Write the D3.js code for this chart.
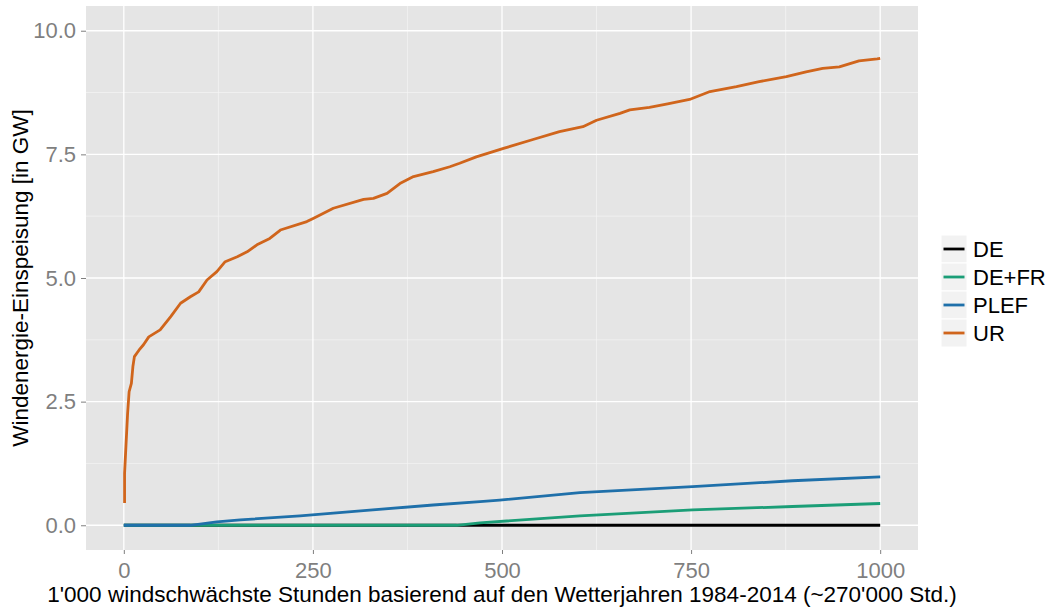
<!DOCTYPE html>
<html>
<head>
<meta charset="utf-8">
<script src="https://cdn.jsdelivr.net/npm/d3@7"></script>
<style>
  body { margin: 0; background: #fff; }
  svg { font-family: "Liberation Sans", Arial, sans-serif; }
  .grid-major line { stroke: #fff; stroke-width: 1.3; }
  .grid-minor line { stroke: #f5f5f5; stroke-width: 0.7; }
  .axis path { display: none; }
  .axis line { stroke: #7f7f7f; }
  .axis text { fill: #7f7f7f; font-size: 22px; }
  .series { fill: none; stroke-width: 2.8; stroke-linejoin: round; }
</style>
</head>
<body>
<div id="chart"></div>
<script>
const svgWidth = 1051;
const svgHeight = 609;
const margin = {top: 6, right: 133, bottom: 59, left: 86};
const width = svgWidth - margin.left - margin.right;
const height = svgHeight - margin.top - margin.bottom;

// series names and colours (legend order)
const seriesNames = ["DE", "DE+FR", "PLEF", "UR"];
const seriesColors = ["#000000", "#1b9e77", "#1f70aa", "#d0651c"];

// values: [hour rank, GW]
const deValues = [[0, 0], [1000, 0]];
const defrValues = [[0, 0], [440, 0], [471, 0.05], [603, 0.19], [752, 0.31], [884, 0.38], [1000, 0.44]];
const plefValues = [[0, 0], [88, 0], [123, 0.07], [154, 0.11], [233, 0.19], [321, 0.30], [409, 0.41],
  [471, 0.48], [497, 0.51], [603, 0.66], [752, 0.78], [884, 0.90], [1000, 0.98]];
const urValues = [[1, 0.45], [1, 1.05], [3, 1.66], [5, 2.26], [7, 2.70], [10, 2.87], [12, 3.21], [14, 3.41],
  [20, 3.54], [26, 3.65], [33, 3.81], [48, 3.95], [62, 4.22], [75, 4.49], [88, 4.62], [99, 4.72],
  [110, 4.96], [123, 5.13], [134, 5.33], [150, 5.43], [163, 5.53], [176, 5.67], [193, 5.80],
  [207, 5.97], [242, 6.14], [251, 6.21], [277, 6.41], [317, 6.59], [330, 6.61], [348, 6.71],
  [365, 6.91], [383, 7.05], [409, 7.15], [431, 7.25], [444, 7.32], [466, 7.45], [502, 7.62],
  [541, 7.80], [576, 7.96], [607, 8.06], [625, 8.19], [656, 8.33], [669, 8.40], [695, 8.45],
  [719, 8.52], [748, 8.61], [775, 8.77], [810, 8.87], [840, 8.97], [876, 9.07], [902, 9.17],
  [924, 9.24], [946, 9.27], [972, 9.39], [996, 9.43], [1000, 9.44]];
const seriesValues = [deValues, defrValues, plefValues, urValues];

// ticks
const xTicks = [0, 250, 500, 750, 1000];
const xMinor = [125, 375, 625, 875];
const yTicks = [0, 2.5, 5, 7.5, 10];
const yMinor = [1.25, 3.75, 6.25, 8.75];

const xTitle = "1'000 windschwächste Stunden basierend auf den Wetterjahren 1984-2014 (~270'000 Std.)";
const yTitle = "Windenergie-Einspeisung [in GW]";

document.addEventListener("DOMContentLoaded", function() {
  drawChart();
});

function drawChart() {
  const root = d3.select("#chart")
    .append("svg")
    .attr("width", svgWidth)
    .attr("height", svgHeight);

  const svg = root.append("g")
    .attr("transform", "translate(" + margin.left + "," + margin.top + ")");

  const xscale = d3.scaleLinear().domain([-50, 1050]).range([0, width]);
  const yscale = d3.scaleLinear().domain([-0.5, 10.5]).range([height, 0]);

  // panel
  svg.append("rect")
    .attr("width", width)
    .attr("height", height)
    .attr("fill", "#e5e5e5");

  // minor grid
  svg.append("g").attr("class", "grid-minor")
    .selectAll("line").data(xMinor).join("line")
    .attr("x1", d => xscale(d)).attr("x2", d => xscale(d))
    .attr("y1", 0).attr("y2", height);
  svg.append("g").attr("class", "grid-minor")
    .selectAll("line").data(yMinor).join("line")
    .attr("x1", 0).attr("x2", width)
    .attr("y1", d => yscale(d)).attr("y2", d => yscale(d));

  // major grid
  svg.append("g").attr("class", "grid-major")
    .selectAll("line").data(xTicks).join("line")
    .attr("x1", d => xscale(d)).attr("x2", d => xscale(d))
    .attr("y1", 0).attr("y2", height);
  svg.append("g").attr("class", "grid-major")
    .selectAll("line").data(yTicks).join("line")
    .attr("x1", 0).attr("x2", width)
    .attr("y1", d => yscale(d)).attr("y2", d => yscale(d));

  // axes
  const xaxis = d3.axisBottom(xscale).tickValues(xTicks).tickSize(4).tickPadding(8).tickFormat(d3.format("d"));
  const yaxis = d3.axisLeft(yscale).tickValues(yTicks).tickSize(5).tickPadding(5).tickFormat(d3.format(".1f"));

  svg.append("g")
    .attr("class", "axis")
    .attr("transform", "translate(0," + height + ")")
    .call(xaxis);

  svg.append("g")
    .attr("class", "axis")
    .call(yaxis);

  // lines
  const line = d3.line()
    .x(d => xscale(d[0]))
    .y(d => yscale(d[1]));

  seriesValues.forEach(function(vals, i) {
    svg.append("path")
      .datum(vals)
      .attr("class", "series")
      .attr("stroke", seriesColors[i])
      .attr("d", line);
  });

  // axis titles
  root.append("text")
    .attr("x", margin.left + width / 2)
    .attr("y", 602)
    .attr("text-anchor", "middle")
    .attr("font-size", 22.5)
    .attr("fill", "#000")
    .text(xTitle);

  root.append("text")
    .attr("transform", "translate(28," + (margin.top + height / 2) + ")rotate(-90)")
    .attr("text-anchor", "middle")
    .attr("font-size", 22.5)
    .attr("fill", "#000")
    .text(yTitle);

  // legend
  const legend = root.append("g")
    .attr("transform", "translate(941,235)");

  const rows = legend.selectAll("g").data(seriesNames).join("g")
    .attr("transform", (d, i) => "translate(0," + (i * 28) + ")");

  rows.append("rect")
    .attr("width", 26).attr("height", 28)
    .attr("fill", "#f2f2f2")
    .attr("stroke", "#fff");

  rows.append("line")
    .attr("x1", 2.5).attr("x2", 23.5)
    .attr("y1", 14).attr("y2", 14)
    .attr("stroke", (d, i) => seriesColors[i])
    .attr("stroke-width", 2.8);

  rows.append("text")
    .attr("x", 32)
    .attr("y", 14)
    .attr("dy", "0.36em")
    .attr("font-size", 22)
    .attr("fill", "#000")
    .text(d => d);
}
</script>
</body>
</html>
